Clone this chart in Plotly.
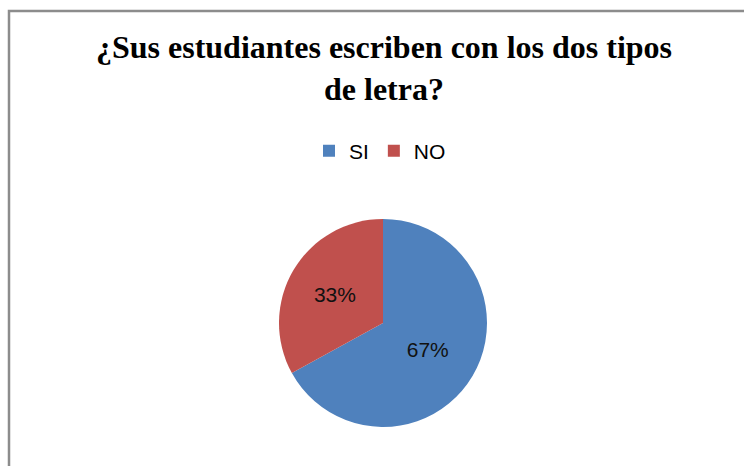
import plotly.graph_objects as go

labels = ["SI", "NO"]
values = [67, 33]
colors = ["#4F81BD", "#C0504D"]
title_text = "<b>¿Sus estudiantes escriben con los dos tipos<br>de letra?</b>"

W, H = 744, 466

fig = go.Figure(go.Pie(
    labels=labels,
    values=values,
    marker=dict(colors=colors, line=dict(color="white", width=0)),
    sort=False,
    direction="clockwise",
    rotation=0,
    textinfo="percent",
    texttemplate="%{percent:.0%}",
    textposition="inside",
    insidetextorientation="horizontal",
    textfont=dict(family="Liberation Sans, Arial, sans-serif", size=21, color="#111111"),
    domain=dict(x=[279 / W, 487 / W], y=[39 / H, 247 / H]),
    hoverinfo="label+percent",
))

fig.update_layout(
    width=W, height=H,
    margin=dict(l=0, r=0, t=0, b=0),
    paper_bgcolor="white",
    plot_bgcolor="white",
    title=dict(
        text=title_text,
        font=dict(family="Liberation Serif, Times New Roman, serif", size=32, color="black"),
        x=384 / W, xanchor="center",
        y=1 - 58 / H, yanchor="top",
    ),
    showlegend=True,
    legend=dict(
        orientation="h",
        x=380 / W, xanchor="center",
        y=1 - 151 / H, yanchor="middle",
        font=dict(family="Liberation Sans, Arial, sans-serif", size=21, color="black"),
        itemwidth=30,
        bgcolor="rgba(0,0,0,0)",
    ),
    shapes=[dict(
        type="rect", xref="paper", yref="paper",
        x0=9 / W, x1=1.05, y0=-0.05, y1=1 - 11 / H,
        line=dict(color="#8c8c8c", width=2.5),
        fillcolor="rgba(0,0,0,0)",
    )],
)

fig.write_html("out.html", config={"displayModeBar": False},
               post_script="document.body.style.margin='0';")
